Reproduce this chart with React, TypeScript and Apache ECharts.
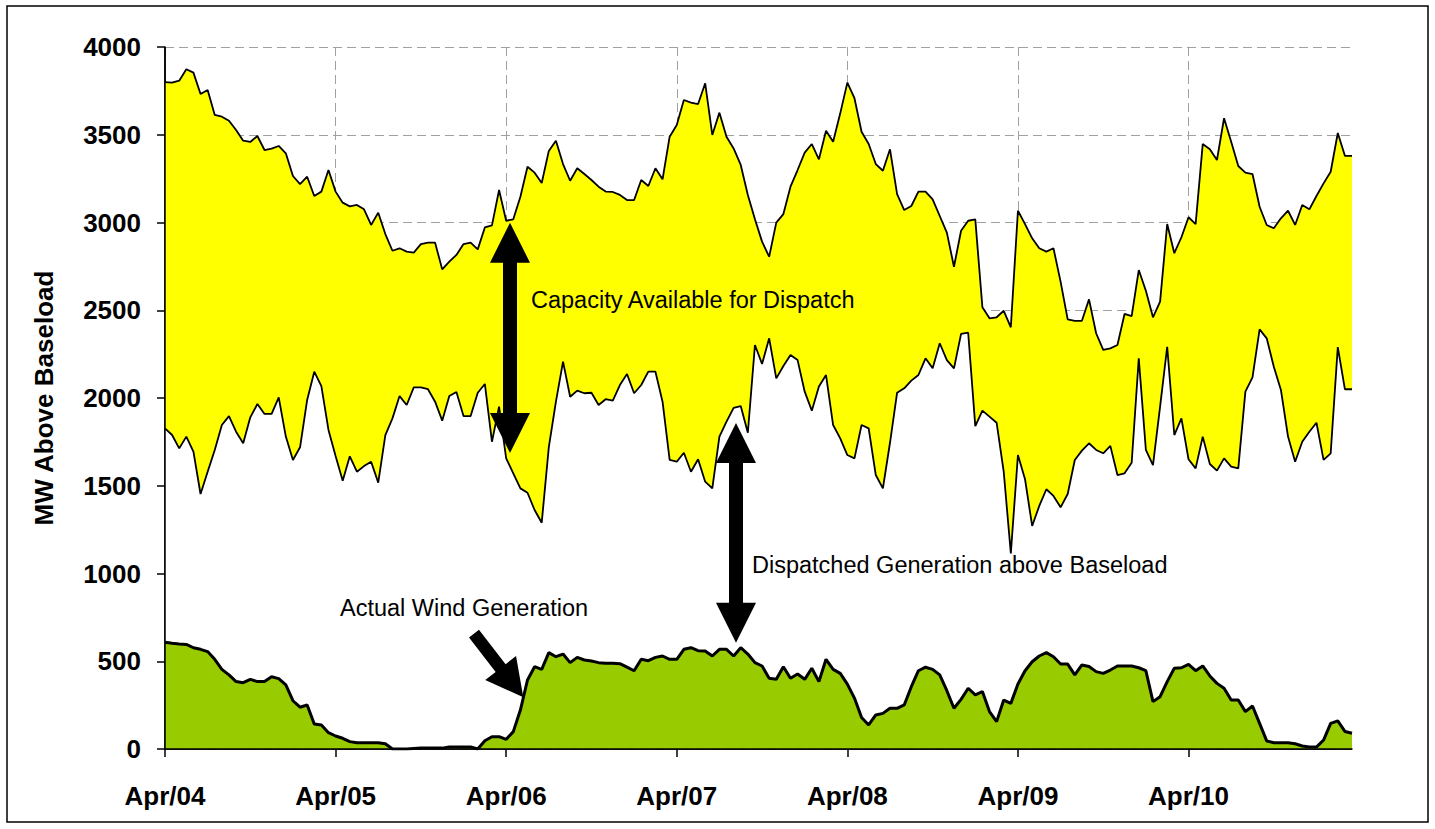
import React, { useEffect, useRef } from 'react';
import * as echarts from 'echarts';

const days = ['Apr/04', 'Apr/05', 'Apr/06', 'Apr/07', 'Apr/08', 'Apr/09', 'Apr/10'];
const categories = days.flatMap((d) =>
  Array.from({ length: 24 }, (_, h) => `${d} ${String(h).padStart(2, '0')}:00`)
);

const capacityUpper = [
  3800, 3797, 3808, 3873, 3854, 3732, 3755, 3613, 3603, 3580,
  3527, 3466, 3459, 3493, 3413, 3421, 3436, 3394, 3265, 3219,
  3261, 3151, 3176, 3299, 3176, 3113, 3092, 3100, 3075, 2986,
  3056, 2934, 2839, 2853, 2834, 2828, 2877, 2885, 2885, 2733,
  2777, 2815, 2877, 2885, 2847, 2972, 2984, 3185, 3010, 3018,
  3147, 3318, 3284, 3225, 3408, 3466, 3333, 3238, 3309, 3276,
  3242, 3204, 3176, 3174, 3157, 3128, 3128, 3242, 3208, 3309,
  3246, 3489, 3556, 3698, 3683, 3675, 3793, 3499, 3626, 3489,
  3422, 3328, 3157, 3018, 2891, 2805, 2999, 3048, 3204, 3299,
  3398, 3447, 3360, 3523, 3460, 3622, 3797, 3708, 3517, 3447,
  3333, 3295, 3417, 3162, 3071, 3094, 3176, 3176, 3132, 3037,
  2942, 2748, 2953, 3010, 3018, 2517, 2454, 2460, 2497, 2403,
  3067, 2991, 2910, 2853, 2834, 2853, 2663, 2448, 2440, 2440,
  2562, 2369, 2274, 2283, 2302, 2479, 2467, 2729, 2611, 2460,
  2549, 2991, 2825, 2916, 3030, 2991, 3447, 3417, 3356, 3594,
  3460, 3322, 3284, 3276, 3090, 2986, 2967, 3024, 3067, 2986,
  3100, 3075, 3151, 3223, 3289, 3510, 3380, 3380,
];

const capacityLower = [
  1827, 1789, 1713, 1780, 1694, 1453, 1580, 1704, 1846, 1897,
  1808, 1742, 1890, 1966, 1909, 1909, 2004, 1780, 1647, 1719,
  1989, 2150, 2068, 1818, 1670, 1529, 1668, 1580, 1612, 1637,
  1518, 1789, 1884, 2011, 1960, 2061, 2061, 2050, 1979, 1871,
  2011, 2034, 1897, 1897, 2030, 2080, 1751, 1951, 1656, 1571,
  1485, 1460, 1362, 1289, 1720, 1979, 2207, 2007, 2042, 2027,
  2030, 1960, 1993, 1985, 2074, 2137, 2027, 2074, 2150, 2150,
  1979, 1647, 1637, 1688, 1580, 1651, 1523, 1485, 1780, 1865,
  1944, 1954, 1802, 2302, 2194, 2340, 2112, 2182, 2245, 2216,
  2036, 1928, 2065, 2131, 1846, 1770, 1675, 1656, 1846, 1827,
  1561, 1485, 1745, 2030, 2055, 2099, 2131, 2226, 2169, 2312,
  2216, 2169, 2365, 2372, 1840, 1928, 1894, 1859, 1580, 1115,
  1675, 1537, 1271, 1385, 1480, 1442, 1377, 1453, 1647, 1700,
  1742, 1704, 1685, 1727, 1561, 1571, 1631, 2226, 1704, 1618,
  1951, 2292, 1789, 1884, 1651, 1599, 1780, 1624, 1586, 1656,
  1609, 1599, 2036, 2118, 2391, 2340, 2178, 2046, 1780, 1637,
  1751, 1808, 1859, 1647, 1685, 2290, 2050, 2050,
];

const windGeneration = [
  608, 602, 598, 596, 577, 568, 555, 511, 454, 422,
  384, 378, 397, 384, 384, 412, 401, 365, 275, 238,
  251, 142, 137, 93, 74, 61, 42, 36, 36, 36,
  36, 30, 0, 0, 0, 3, 5, 5, 5, 5,
  12, 12, 12, 12, 0, 47, 70, 70, 55, 99,
  222, 393, 469, 454, 549, 526, 541, 492, 522, 507,
  501, 492, 488, 488, 486, 466, 446, 511, 503, 522,
  530, 511, 511, 568, 577, 560, 558, 530, 568, 568,
  530, 577, 541, 492, 473, 403, 397, 469, 403, 427,
  397, 460, 384, 511, 454, 431, 370, 290, 180, 137,
  194, 203, 232, 232, 251, 355, 446, 466, 454, 422,
  332, 232, 283, 346, 308, 327, 213, 156, 279, 260,
  370, 446, 497, 530, 549, 526, 484, 484, 422, 479,
  470, 441, 431, 450, 473, 473, 473, 463, 446, 270,
  298, 384, 460, 463, 482, 446, 473, 416, 374, 346,
  279, 279, 213, 245, 146, 46, 36, 36, 36, 30,
  17, 11, 11, 51, 146, 160, 100, 90,
];

const FONT = 'Liberation Sans, Arial, sans-serif';

// plot area (pixels)
const GRID = { left: 165, top: 47, right: 83, bottom: 80 };
const W = 1435;
const H = 829;

function doubleArrow(cx: number, top: number, bottom: number) {
  const hw = 20, hl = 40, sw = 7;
  return {
    type: 'polygon',
    z: 100,
    shape: {
      points: [
        [cx, top], [cx + hw, top + hl], [cx + sw, top + hl], [cx + sw, bottom - hl],
        [cx + hw, bottom - hl], [cx, bottom], [cx - hw, bottom - hl], [cx - sw, bottom - hl],
        [cx - sw, top + hl], [cx - hw, top + hl],
      ],
    },
    style: { fill: '#000' },
  };
}

function singleArrow(x0: number, y0: number, x1: number, y1: number) {
  const hw = 19.5, hl = 37, sw = 6.3;
  const dx = x1 - x0, dy = y1 - y0;
  const len = Math.hypot(dx, dy);
  const ux = dx / len, uy = dy / len;
  const px = -uy, py = ux;
  const bx = x1 - ux * hl, by = y1 - uy * hl;
  return {
    type: 'polygon',
    z: 100,
    shape: {
      points: [
        [x0 + px * sw, y0 + py * sw], [bx + px * sw, by + py * sw], [bx + px * hw, by + py * hw],
        [x1, y1], [bx - px * hw, by - py * hw], [bx - px * sw, by - py * sw], [x0 - px * sw, y0 - py * sw],
      ],
    },
    style: { fill: '#000' },
  };
}

function label(text: string, x: number, y: number) {
  return {
    type: 'text',
    z: 100,
    x,
    y,
    style: {
      text,
      fontSize: 23.5,
      fontFamily: FONT,
      fill: '#000',
      align: 'left',
      verticalAlign: 'middle',
    },
  };
}

export default function App() {
  const ref = useRef<HTMLDivElement>(null);

  useEffect(() => {
    if (!ref.current) return;
    const chart = echarts.init(ref.current, undefined, { renderer: 'svg' });
    const dayTick = (index: number) => index % 24 === 0;
    const plotRight = W - GRID.right;
    const plotBottom = H - GRID.bottom;
    chart.setOption({
      animation: false,
      backgroundColor: '#fff',
      grid: { ...GRID, containLabel: false },
      xAxis: {
        type: 'category',
        data: categories,
        boundaryGap: false,
        axisLine: { lineStyle: { color: '#000', width: 1.5 } },
        axisTick: { interval: dayTick, length: 8, lineStyle: { color: '#000', width: 1.5 } },
        axisLabel: {
          interval: dayTick,
          formatter: (v: string) => v.split(' ')[0],
          margin: 34,
          color: '#000',
          fontSize: 26,
          fontWeight: 'bold',
          fontFamily: FONT,
        },
        splitLine: {
          show: true,
          interval: dayTick,
          lineStyle: { color: '#a0a0a0', width: 1, type: [9, 5] },
        },
      },
      yAxis: {
        type: 'value',
        min: 0,
        max: 4000,
        interval: 500,
        name: 'MW Above Baseload',
        nameLocation: 'middle',
        nameRotate: 90,
        nameGap: 108,
        nameTextStyle: { color: '#000', fontSize: 26, fontWeight: 'bold', fontFamily: FONT },
        axisLine: { show: true, lineStyle: { color: '#000', width: 1.5 } },
        axisTick: { show: true, length: 8, lineStyle: { color: '#000', width: 1.5 } },
        axisLabel: {
          margin: 24,
          color: '#000',
          fontSize: 26,
          fontWeight: 'bold',
          fontFamily: FONT,
          formatter: (v: number) => String(v),
        },
        splitLine: { show: true, lineStyle: { color: '#a0a0a0', width: 1, type: [9, 5] } },
      },
      series: [
        {
          name: 'Capacity upper',
          type: 'line',
          data: capacityUpper,
          showSymbol: false,
          symbol: 'none',
          z: 2,
          lineStyle: { color: '#000', width: 1.8 },
          areaStyle: { color: '#ffff00', opacity: 1 },
        },
        {
          name: 'Dispatched generation',
          type: 'line',
          data: capacityLower,
          showSymbol: false,
          symbol: 'none',
          z: 3,
          lineStyle: { color: '#000', width: 1.8 },
          areaStyle: { color: '#ffffff', opacity: 1 },
        },
        {
          name: 'Actual Wind Generation',
          type: 'line',
          data: windGeneration,
          showSymbol: false,
          symbol: 'none',
          z: 4,
          lineStyle: { color: '#000', width: 3 },
          areaStyle: { color: '#99cc00', opacity: 1 },
        },
      ],
      graphic: [
        {
          type: 'rect',
          z: 0,
          silent: true,
          shape: { x: 7, y: 6, width: 1421, height: 816 },
          style: { fill: 'none', stroke: '#000', lineWidth: 1.5 },
        },
        {
          type: 'line',
          z: 90,
          silent: true,
          shape: { x1: GRID.left, y1: GRID.top, x2: GRID.left, y2: plotBottom },
          style: { stroke: '#000', lineWidth: 1.5 },
        },
        {
          type: 'line',
          z: 90,
          silent: true,
          shape: { x1: GRID.left, y1: plotBottom, x2: plotRight, y2: plotBottom },
          style: { stroke: '#000', lineWidth: 1.5 },
        },
        doubleArrow(510, 222.7, 453),
        doubleArrow(736, 423, 642.7),
        singleArrow(474, 633.7, 523.3, 697.3),
        label('Capacity Available for Dispatch', 531, 300),
        label('Dispatched Generation above Baseload', 752, 565),
        label('Actual Wind Generation', 340, 608),
      ],
    });
    return () => chart.dispose();
  }, []);

  return (
    <div
      ref={ref}
      style={{ position: 'absolute', left: 0, top: 0, width: W, height: H }}
    />
  );
}
